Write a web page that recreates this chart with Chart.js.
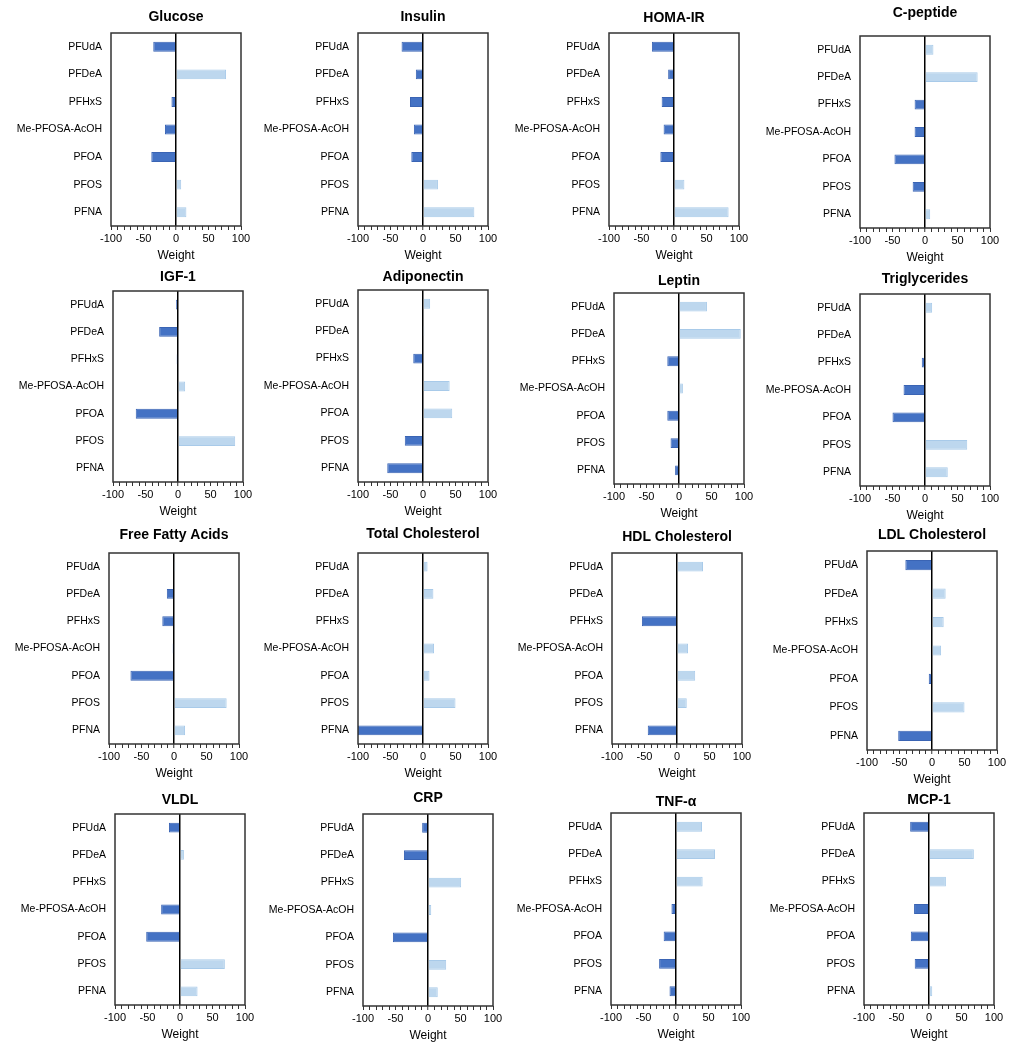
<!DOCTYPE html>
<html>
<head>
<meta charset="utf-8">
<script src="https://cdn.jsdelivr.net/npm/chart.js@4/dist/chart.umd.min.js"></script>
<style>
  html, body { margin: 0; padding: 0; background: #ffffff; }
  body { width: 1014px; height: 1050px; position: relative; overflow: hidden; }
  .panel { position: absolute; }
  .panel canvas { display: block; }
</style>
</head>
<body>
<script>
// ---- Data ----
const compounds = ['PFUdA', 'PFDeA', 'PFHxS', 'Me-PFOSA-AcOH', 'PFOA', 'PFOS', 'PFNA'];
const xTickLabels = [-100, -50, 0, 50, 100];
const axisTitle = 'Weight';

const glucose          = [-35, 77, -7, -17, -38, 8, 16];
const insulin          = [-33, -11, -20, -14, -18, 23, 79];
const homaIR           = [-34, -9, -19, -16, -21, 16, 84];
const cPeptide         = [13, 81, -16, -16, -47, -19, 8];
const igf1             = [-3, -29, -2, 11, -65, 88, 0];
const adiponectin      = [11, 2, -15, 41, 45, -28, -55];
const leptin           = [43, 95, -18, 6, -18, -13, -6];
const triglycerides    = [11, 0, -5, -33, -50, 65, 35];
const freeFattyAcids   = [2, -11, -18, -2, -67, 81, 17];
const totalCholesterol = [7, 16, 0, 17, 10, 50, -100];
const hdlCholesterol   = [40, 0, -54, 17, 28, 15, -45];
const ldlCholesterol   = [-41, 21, 18, 14, -5, 50, -52];
const vldl             = [-17, 6, 0, -29, -52, 69, 27];
const crp              = [-9, -37, 51, 5, -54, 28, 15];
const tnfAlpha         = [40, 60, 41, -7, -19, -26, -10];
const mcp1             = [-29, 69, 26, -23, -28, -22, 5];

// ---- Layout (title, values, plot left, plot top, plot bottom, title offset) ----
const panels = [
  ['Glucose', glucose, 111, 33, 226, 16],
  ['Insulin', insulin, 358, 33, 226, 16],
  ['HOMA-IR', homaIR, 609, 33, 226, 15],
  ['C-peptide', cPeptide, 860, 36, 228, 23],
  ['IGF-1', igf1, 113, 291, 482, 14],
  ['Adiponectin', adiponectin, 358, 290, 482, 13],
  ['Leptin', leptin, 614, 293, 484, 12],
  ['Triglycerides', triglycerides, 860, 294, 486, 15],
  ['Free Fatty Acids', freeFattyAcids, 109, 553, 744, 18],
  ['Total Cholesterol', totalCholesterol, 358, 553, 744, 19],
  ['HDL Cholesterol', hdlCholesterol, 612, 553, 744, 16],
  ['LDL Cholesterol', ldlCholesterol, 867, 551, 750, 16],
  ['VLDL', vldl, 115, 814, 1005, 14],
  ['CRP', crp, 363, 814, 1006, 16],
  ['TNF-\u03b1', tnfAlpha, 611, 813, 1005, 11],
  ['MCP-1', mcp1, 864, 813, 1005, 13]
];

const FONT = "'Liberation Sans', Arial, sans-serif";
const YW = 110, PW = 130, RP = 12, XH = 38, TLH = 16;
const NEG_FILL = '#4472C4', NEG_BORDER = '#3A64B4';
const POS_FILL = '#BDD7EE', POS_BORDER = '#A8CAE9';

const framePlugin = {
  id: 'frame',
  afterDatasetsDraw(chart) {
    const a = chart.chartArea, c = chart.ctx;
    c.save();
    c.strokeStyle = '#333333';
    c.lineWidth = 1.5;
    c.strokeRect(a.left, a.top, a.right - a.left, a.bottom - a.top);
    c.restore();
  }
};

panels.forEach(([title, values, left, top, bottom, tOff]) => {
  const plotH = bottom - top;
  const padB = Math.max(0, Math.round(tOff - TLH / 2));
  const titleH = TLH + padB;
  const w = YW + PW + RP;
  const h = titleH + plotH + XH;
  const div = document.createElement('div');
  div.className = 'panel';
  div.style.left = (left - YW) + 'px';
  div.style.top = (top - titleH) + 'px';
  div.style.width = w + 'px';
  div.style.height = h + 'px';
  const cv = document.createElement('canvas');
  div.appendChild(cv);
  document.body.appendChild(div);

  new Chart(cv, {
    type: 'bar',
    data: {
      labels: compounds,
      datasets: [{
        data: values,
        backgroundColor: c => (c.raw < 0 ? NEG_FILL : POS_FILL),
        borderColor: c => (c.raw < 0 ? NEG_BORDER : POS_BORDER),
        borderWidth: c => (c.raw === 0 ? 0 : 1),
        barPercentage: 0.36,
        categoryPercentage: 1.0
      }]
    },
    options: {
      indexAxis: 'y',
      responsive: true,
      maintainAspectRatio: false,
      animation: false,
      devicePixelRatio: 1,
      layout: { padding: { left: 0, right: RP, top: 0, bottom: 0 } },
      plugins: {
        legend: { display: false },
        tooltip: { enabled: false },
        title: {
          display: true,
          text: title,
          fullSize: false,
          color: '#000000',
          font: { family: FONT, size: 14, weight: 'bold', lineHeight: TLH + 'px' },
          padding: { top: 0, bottom: padB }
        }
      },
      scales: {
        x: {
          type: 'linear',
          min: -100,
          max: 100,
          z: 1,
          afterFit: s => { s.height = XH; },
          border: { display: false },
          grid: {
            drawOnChartArea: true,
            drawTicks: true,
            tickLength: 4,
            tickColor: '#333333',
            tickWidth: 1,
            color: c => (c.tick && c.tick.value === 0 ? '#000000' : 'rgba(0,0,0,0)'),
            lineWidth: c => (c.tick && c.tick.value === 0 ? 1.5 : 1)
          },
          ticks: {
            stepSize: 10,
            autoSkip: false,
            maxRotation: 0,
            padding: 2,
            color: '#000000',
            font: { family: FONT, size: 11 },
            callback: v => (xTickLabels.includes(v) ? String(v) : '')
          },
          title: {
            display: true,
            text: axisTitle,
            color: '#000000',
            font: { family: FONT, size: 12 },
            padding: { top: 0, bottom: 1 }
          }
        },
        y: {
          afterFit: s => { s.width = YW; },
          border: { display: false },
          grid: { display: false, drawTicks: false },
          ticks: {
            padding: 9,
            color: '#000000',
            font: { family: FONT, size: 10.5 }
          }
        }
      }
    },
    plugins: [framePlugin]
  });
});
</script>
</body>
</html>
